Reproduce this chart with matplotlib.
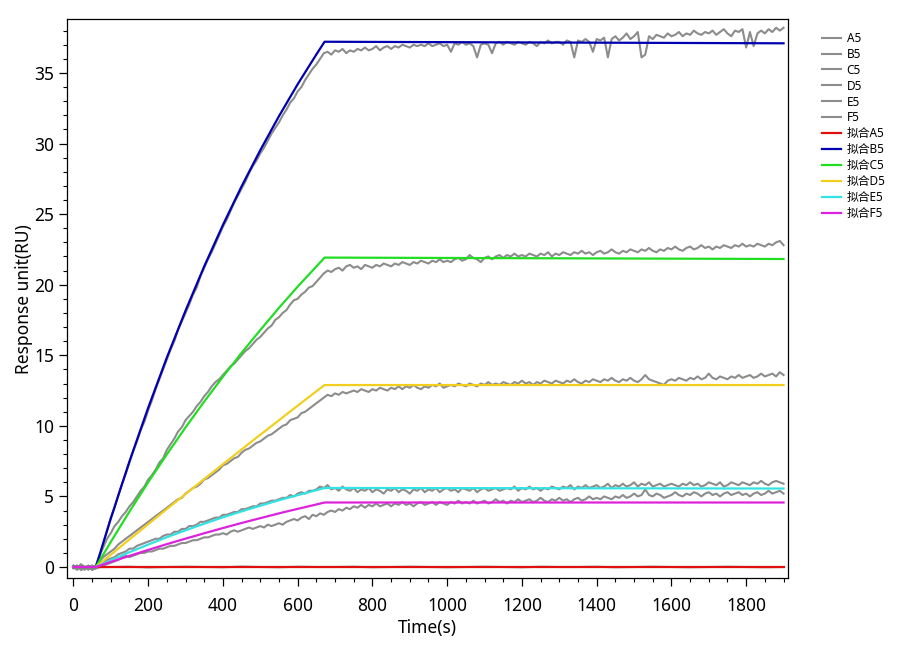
import numpy as np
import matplotlib
matplotlib.use("Agg")
import matplotlib.pyplot as plt
from matplotlib.ticker import MultipleLocator

plt.rcParams['font.family'] = ['Noto Sans', 'Noto Sans CJK SC', 'DejaVu Sans']

# ---------------- data ----------------
raw_labels = ["A5", "B5", "C5", "D5", "E5", "F5"]
fit_labels = ["拟合A5", "拟合B5", "拟合C5", "拟合D5", "拟合E5", "拟合F5"]

time_raw = list(range(0, 1901, 10))
time_raw_a5 = list(range(0, 1901, 50))

a5_raw = [0.03, -0.02, 0.0, 0.02, -0.03, 0.0, 0.02, 0.0, -0.02, 0.03,
          0.0, -0.02, 0.02, 0.0, 0.0, 0.02, -0.02, 0.0, 0.02, 0.0,
          -0.02, 0.0, 0.02, 0.0, -0.02, 0.02, 0.0, 0.0, 0.02, -0.02,
          0.0, 0.02, 0.0, -0.02, 0.0, 0.02, 0.0, -0.02, 0.0]

b5_raw = [0.1, -0.1, 0.2, 0.0, -0.2, 0.1, 0.0, 0.7, 1.7, 2.6,
          3.5, 4.2, 5.1, 5.9, 6.6, 7.4, 8.2, 8.9, 9.7, 10.3,
          11.1, 11.8, 12.6, 13.3, 14.0, 14.7, 15.4, 16.0, 16.8, 17.4,
          18.0, 18.6, 19.3, 19.8, 20.6, 21.2, 21.8, 22.3, 22.9, 23.5,
          24.1, 24.6, 25.2, 25.8, 26.3, 26.8, 27.3, 27.9, 28.4, 28.8,
          29.3, 29.7, 30.2, 30.7, 31.1, 31.5, 32.0, 32.4, 32.9, 33.2,
          33.7, 34.0, 34.5, 34.9, 35.3, 35.6, 36.0, 36.4, 36.5, 36.3,
          36.6, 36.5, 36.7, 36.4, 36.6, 36.5, 36.7, 36.6, 36.8, 36.6,
          36.7, 36.9, 36.6, 36.8, 36.9, 36.7, 36.9, 36.8, 37.0, 36.9,
          36.8, 37.0, 36.9, 37.0, 36.9, 37.1, 36.9, 37.0, 37.1, 36.9,
          37.0, 36.5, 37.1, 37.0, 37.2, 37.0, 37.1, 36.9, 36.1, 37.0,
          37.1, 37.0, 36.4, 37.1, 37.2, 37.0, 37.2, 37.1, 37.0, 37.2,
          37.1, 37.0, 37.2, 37.1, 36.9, 37.2, 37.1, 37.3, 37.1, 37.2,
          37.2, 37.0, 37.3, 37.2, 36.1, 37.3, 37.2, 37.4, 37.2, 36.5,
          37.4, 37.3, 37.5, 36.1, 37.4, 37.6, 37.3, 37.5, 37.8, 37.4,
          37.6, 37.9, 36.1, 36.3, 37.6, 37.4, 37.7, 37.6, 37.5, 37.8,
          37.6, 37.7, 37.9, 37.6, 37.8, 37.7, 38.0, 37.8, 37.7, 37.9,
          37.8, 38.0, 37.7, 37.9, 38.1, 37.8, 37.6, 38.0, 37.9, 38.1,
          36.8, 37.9, 36.9, 37.8, 38.0, 37.8, 38.1, 37.9, 38.2, 38.0,
          38.2]

c5_raw = [0.0, -0.2, 0.1, -0.1, 0.1, -0.2, 0.1, 0.8, 1.4, 2.0,
          2.4, 2.9, 3.2, 3.6, 3.9, 4.3, 4.6, 5.0, 5.4, 5.7,
          6.2, 6.5, 6.9, 7.4, 7.7, 8.3, 8.7, 9.1, 9.6, 9.9,
          10.4, 10.7, 11.0, 11.4, 11.7, 12.1, 12.4, 12.8, 13.1, 13.3,
          13.6, 13.9, 14.2, 14.4, 14.7, 15.0, 15.3, 15.5, 15.8, 16.1,
          16.3, 16.6, 16.9, 17.1, 17.5, 17.7, 18.0, 18.2, 18.6, 18.9,
          19.0, 19.3, 19.5, 19.8, 19.9, 20.2, 20.5, 20.8, 21.0, 20.9,
          21.1, 21.2, 21.0, 21.3, 21.4, 21.2, 21.3, 21.1, 21.4, 21.3,
          21.2, 21.4, 21.3, 21.5, 21.4, 21.3, 21.5, 21.4, 21.6, 21.5,
          21.4, 21.6, 21.5, 21.7, 21.6, 21.5, 21.7, 21.6, 21.8, 21.6,
          21.7, 21.6, 21.8, 21.9, 21.7, 21.8, 22.1, 21.9, 21.8, 21.6,
          21.9, 22.0, 21.8, 22.0, 22.1, 21.9, 22.1, 22.0, 22.2, 22.0,
          22.1, 22.0, 22.2, 22.1, 22.0, 22.2, 22.1, 22.3, 22.0, 22.2,
          22.1, 22.3, 22.2, 22.1, 22.3, 22.2, 22.4, 22.2, 22.3, 22.1,
          22.3, 22.4, 22.2, 22.3, 22.5, 22.3, 22.2, 22.4, 22.3, 22.5,
          22.4, 22.3, 22.5, 22.4, 22.6, 22.4, 22.3, 22.5, 22.4, 22.6,
          22.5, 22.7, 22.5, 22.4, 22.6, 22.7, 22.5, 22.6, 22.8, 22.6,
          22.7, 22.5, 22.7, 22.6, 22.8, 22.7, 22.6, 22.8, 22.7, 22.9,
          22.7, 22.8, 22.7, 22.9, 22.8, 22.7, 22.9, 22.8, 23.0, 23.1,
          22.8]

d5_raw = [0.1, -0.1, 0.0, -0.2, 0.1, -0.1, 0.0, 0.4, 0.7, 0.9,
          1.1, 1.3, 1.6, 1.8, 2.0, 2.2, 2.4, 2.6, 2.8, 3.0,
          3.2, 3.4, 3.6, 3.8, 4.0, 4.2, 4.4, 4.6, 4.8, 4.9,
          5.2, 5.4, 5.6, 5.7, 5.9, 6.2, 6.3, 6.5, 6.7, 6.9,
          7.2, 7.3, 7.5, 7.7, 7.8, 8.1, 8.3, 8.4, 8.6, 8.8,
          8.9, 9.1, 9.3, 9.4, 9.6, 9.8, 10.0, 10.1, 10.4, 10.5,
          10.6, 10.9, 11.0, 11.2, 11.4, 11.6, 11.8, 12.0, 12.2, 12.1,
          12.3, 12.2, 12.4, 12.3, 12.4, 12.5, 12.4, 12.6, 12.5, 12.4,
          12.6, 12.5, 12.7, 12.6, 12.5, 12.7, 12.6, 12.8, 12.6, 12.8,
          12.7, 12.9, 12.7, 12.6, 12.8, 12.7, 12.9, 12.8, 13.0, 12.7,
          12.8, 12.9, 12.8, 13.0, 12.9, 12.8, 13.0, 12.9, 12.8, 13.0,
          12.9, 13.1, 12.9, 13.0, 12.9, 13.1, 13.0, 12.9, 13.1, 13.0,
          13.2, 13.0, 13.1, 12.9, 13.1, 13.0, 13.2, 13.1, 13.0, 13.2,
          13.1, 13.0, 13.2, 13.1, 13.3, 13.1, 13.0, 13.2, 13.1, 13.3,
          13.2, 13.1, 13.3, 13.2, 13.4, 13.2, 13.1, 13.3, 13.2, 13.4,
          13.2, 13.1, 13.3, 13.6, 13.3, 13.2, 13.1, 13.0, 12.9, 13.2,
          13.3, 13.2, 13.4, 13.3, 13.2, 13.4, 13.3, 13.5, 13.3, 13.4,
          13.7, 13.4, 13.3, 13.5, 13.4, 13.3, 13.5, 13.4, 13.6, 13.4,
          13.5, 13.6, 13.4, 13.5, 13.7, 13.5, 13.6, 13.7, 13.5, 13.8,
          13.6]

e5_raw = [0.0, 0.1, -0.2, 0.0, -0.1, 0.1, -0.1, 0.2, 0.3, 0.5,
          0.6, 0.7, 0.9, 1.0, 1.1, 1.3, 1.3, 1.5, 1.6, 1.7,
          1.8, 1.9, 2.0, 2.0, 2.2, 2.3, 2.3, 2.5, 2.5, 2.7,
          2.7, 2.9, 2.9, 3.0, 3.2, 3.2, 3.3, 3.4, 3.5, 3.5,
          3.7, 3.7, 3.8, 3.9, 3.9, 4.1, 4.1, 4.2, 4.3, 4.3,
          4.5, 4.5, 4.6, 4.7, 4.7, 4.8, 4.9, 4.9, 5.1, 5.0,
          5.2, 5.3, 5.2, 5.4, 5.4, 5.5, 5.7, 5.6, 5.8, 5.5,
          5.6, 5.4, 5.7, 5.5, 5.4, 5.6, 5.3, 5.5, 5.4, 5.6,
          5.3, 5.5, 5.4, 5.2, 5.5, 5.4, 5.6, 5.3, 5.5, 5.4,
          5.2, 5.5, 5.4, 5.6, 5.3, 5.5, 5.4, 5.6, 5.3, 5.5,
          5.6, 5.4, 5.5, 5.3, 5.6, 5.5, 5.4, 5.6, 5.3, 5.5,
          5.6, 5.4, 5.5, 5.6, 5.4, 5.5, 5.6, 5.5, 5.7, 5.4,
          5.6, 5.5, 5.7, 5.5, 5.6, 5.4, 5.6, 5.5, 5.7, 5.6,
          5.5, 5.7, 5.6, 5.8, 5.5, 5.7, 5.6, 5.8, 5.6, 5.7,
          5.8, 5.6, 5.7, 5.9, 5.6, 5.8, 5.7, 5.9, 5.7, 5.8,
          6.0, 5.7, 5.9, 5.8, 6.0, 5.7, 5.8, 5.9, 5.7, 5.8,
          5.9, 5.8, 5.7, 5.9, 5.8, 6.0, 5.8, 5.9, 5.7, 5.8,
          6.0, 5.9, 5.8, 6.0, 5.7, 5.8, 6.0, 5.9, 5.8, 6.0,
          5.9, 5.8, 6.0, 5.9, 6.1, 5.9, 5.8, 6.0, 6.1, 6.0,
          5.9]

f5_raw = [-0.1, 0.1, -0.2, -0.1, 0.0, -0.2, -0.1, 0.0, 0.1, 0.2,
          0.3, 0.4, 0.5, 0.7, 0.8, 0.7, 0.8, 0.9, 1.0, 1.0,
          1.1, 1.1, 1.2, 1.3, 1.3, 1.4, 1.5, 1.5, 1.6, 1.7,
          1.7, 1.8, 1.9, 1.9, 2.0, 2.1, 2.1, 2.2, 2.3, 2.3,
          2.4, 2.3, 2.5, 2.6, 2.5, 2.6, 2.7, 2.8, 2.7, 2.8,
          2.9, 2.8, 3.0, 2.9, 3.0, 3.1, 3.0, 3.2, 3.3, 3.4,
          3.3, 3.5, 3.6, 3.4, 3.7, 3.6, 3.8, 3.7, 3.9, 4.0,
          3.9, 4.1, 4.0, 4.2, 4.1, 4.3, 4.2, 4.4, 4.2, 4.4,
          4.3, 4.5, 4.3, 4.4, 4.5, 4.3, 4.5, 4.4, 4.6, 4.4,
          4.5, 4.3, 4.5, 4.6, 4.4, 4.5, 4.6, 4.4, 4.6, 4.5,
          4.4, 4.6, 4.5, 4.7, 4.5, 4.6, 4.5, 4.7, 4.5, 4.6,
          4.7, 4.5, 4.6, 4.8, 4.6, 4.7, 4.5, 4.7, 4.6, 4.8,
          4.6, 4.7, 4.8, 4.6, 4.7, 4.9, 4.7, 4.6, 4.8, 4.7,
          4.9, 4.7, 4.8, 4.6, 4.8, 4.9, 4.7, 4.8, 5.0, 4.8,
          4.9, 4.8, 5.0, 4.9, 4.8, 5.0, 4.9, 5.1, 4.9, 5.0,
          5.2, 5.0, 5.1, 5.5, 5.1, 5.0, 5.2, 5.1, 4.9, 5.0,
          5.1, 5.3, 5.1, 5.0, 5.2, 5.1, 5.3, 5.2, 5.0, 5.2,
          5.3, 5.1, 5.2, 5.0, 5.2, 5.3, 5.1, 5.2, 5.3, 5.1,
          5.2, 5.0, 5.2, 5.3, 5.1, 5.2, 5.4, 5.2, 5.3, 5.4,
          5.2]

time_fit = [0, 60, 100, 150, 200, 250, 300, 350, 400, 450, 500, 550, 600, 650, 672, 1900]
a5_fit = [0, 0, 0, 0, 0, 0, 0, 0, 0, 0, 0, 0, 0, 0, 0, 0]
b5_fit = [0, 0, 3.43, 7.49, 11.28, 14.84, 18.16, 21.30, 24.23, 26.97, 29.53, 31.94, 34.20, 36.31, 37.21, 37.10]
c5_fit = [0, 0, 1.78, 3.93, 6.00, 7.98, 9.89, 11.72, 13.48, 15.17, 16.79, 18.36, 19.86, 21.29, 21.92, 21.82]
d5_fit = [0, 0, 0.87, 1.96, 3.03, 4.11, 5.17, 6.23, 7.28, 8.33, 9.37, 10.40, 11.43, 12.45, 12.89, 12.89]
e5_fit = [0, 0, 0.48, 1.05, 1.59, 2.11, 2.60, 3.07, 3.52, 3.94, 4.34, 4.73, 5.09, 5.44, 5.60, 5.56]
f5_fit = [0, 0, 0.36, 0.79, 1.21, 1.62, 2.01, 2.39, 2.76, 3.12, 3.46, 3.80, 4.12, 4.43, 4.57, 4.57]

raw_series = [a5_raw, b5_raw, c5_raw, d5_raw, e5_raw, f5_raw]
fit_series = [a5_fit, b5_fit, c5_fit, d5_fit, e5_fit, f5_fit]
fit_colors = ["#e01010", "#0000b0", "#22dd22", "#f2cf1e", "#33e3e3", "#dd22dd"]
raw_color = "#8c8c8c"

x_ticks = [0, 200, 400, 600, 800, 1000, 1200, 1400, 1600, 1800]
y_ticks = [0, 5, 10, 15, 20, 25, 30, 35]

# ---------------- figure ----------------
fig = plt.figure(figsize=(9, 6.5), dpi=100)
ax = fig.add_axes([0.0741, 0.1103, 0.8015, 0.86])

for lab, vals in zip(raw_labels, raw_series):
    t = time_raw_a5 if lab == "A5" else time_raw
    ax.plot(t[:len(vals)], vals, color=raw_color, lw=1.5, label=lab)

for lab, vals, col in zip(fit_labels, fit_series, fit_colors):
    ax.plot(time_fit, vals, color=col, lw=1.6, label=lab)

ax.set_xlim(-18, 1912)
ax.set_ylim(-0.8, 38.8)
ax.set_xticks(x_ticks)
ax.set_yticks(y_ticks)
ax.xaxis.set_minor_locator(MultipleLocator(50))
ax.yaxis.set_minor_locator(MultipleLocator(1))
ax.tick_params(which='major', direction='out', length=5.5, width=0.9, labelsize=12.5)
ax.tick_params(which='minor', direction='out', length=3, width=0.8)
ax.tick_params(axis='x', which='major', pad=8)
for s in ax.spines.values():
    s.set_linewidth(0.9)

ax.set_xlabel("Time(s)", fontsize=12.5, labelpad=3)
ax.set_ylabel("Response unit(RU)", fontsize=12.5, labelpad=1)

fig.legend(loc='upper left', bbox_to_anchor=(817 / 900, 1 - 27 / 650),
           frameon=False, fontsize=8.5, handlelength=1.6, handletextpad=0.5,
           labelspacing=0.25, borderaxespad=0)

fig.savefig("out.png", dpi=100)
